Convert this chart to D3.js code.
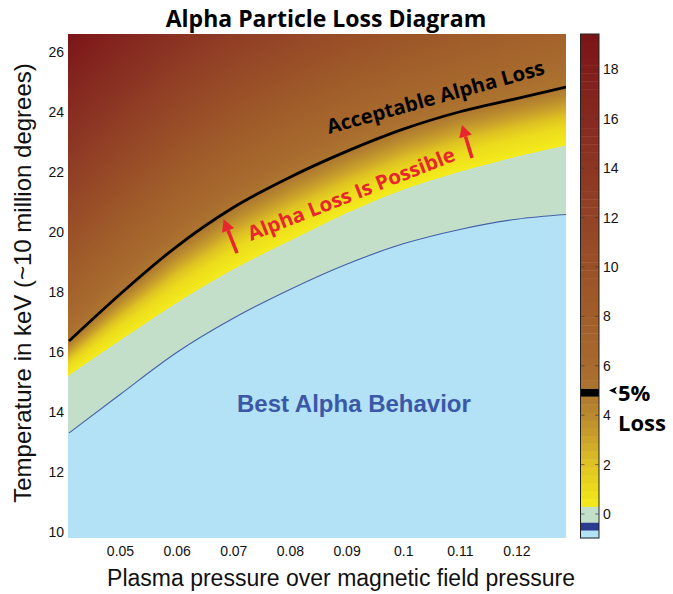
<!DOCTYPE html>
<html>
<head>
<meta charset="utf-8">
<script src="https://cdn.jsdelivr.net/npm/d3@7"></script>
<style>
  body { margin: 0; background: #fff; }
  svg { display: block; }
</style>
</head>
<body>
<div id="chart"></div>
<script>
// beta samples (plasma pressure / magnetic pressure)
const beta = [0.041, 0.05, 0.06, 0.07, 0.08, 0.09, 0.10, 0.11, 0.12, 0.129];
// temperature (keV) of the boundaries
const tBlueEdge   = [13.3, 14.58, 15.98, 17.12, 18.08, 18.92, 19.6, 20.08, 20.42, 20.58];
const tYellowEdge = [15.22, 16.38, 17.63, 18.75, 19.7, 20.62, 21.4, 22.0, 22.5, 22.89];
const t5pct       = [16.36, 17.92, 19.51, 20.81, 21.82, 22.68, 23.42, 24.0, 24.44, 24.83];
// loss (%) at the top edge of the plot
const lossTop     = [19.3, 17.0, 14.8, 13.0, 11.6, 10.4, 9.4, 8.5, 7.7, 7.1];
// where the 1..4 % levels sit between the yellow edge (0) and the 5% line (1)
const lowLevels   = [1, 2, 3, 4];
const lowLevelPos = [0.3, 0.5, 0.66, 0.83];

const xTicks = [0.05, 0.06, 0.07, 0.08, 0.09, 0.1, 0.11, 0.12];
const yTicks = [10, 12, 14, 16, 18, 20, 22, 24, 26];
const cbTicks = [0, 2, 4, 6, 8, 10, 12, 14, 16, 18];

// colormap of the loss values
const cmapVals   = [0.3, 1, 2, 3, 4, 5, 6, 8, 10, 12, 14, 16, 18, 19.4];
const cmapColors = ["#f4ec1c", "#ecdc1c", "#dfc322", "#cca42a", "#b98a2e", "#ad7530", "#a86a2e",
                    "#a05e2a", "#9a5027", "#934326", "#8c3623", "#862a20", "#801d1b", "#7b1518"];
const lightBlue = "#b3e1f6", darkBlue = "#2b3b8f", green = "#c4dfc9";

const W = 673, H = 594;
const plot = { left: 68, right: 566, top: 34, bottom: 538 };

const svg = d3.select("#chart").append("svg")
    .attr("width", W).attr("height", H);

const x = d3.scaleLinear().domain([0.04082, 0.12874]).range([plot.left, plot.right]);
const y = d3.scaleLinear().domain([9.8, 26.59]).range([plot.bottom, plot.top]);
const cmap = d3.scaleLinear().domain(cmapVals).range(cmapColors).clamp(true);

// polylinear scales follow each boundary between the samples
const sBlue = d3.scaleLinear().domain(beta).range(tBlueEdge);
const sYellow = d3.scaleLinear().domain(beta).range(tYellowEdge);
const s5 = d3.scaleLinear().domain(beta).range(t5pct);
const sTop = d3.scaleLinear().domain(beta).range(lossTop);

const defs = svg.append("defs");
defs.append("clipPath").attr("id", "plotclip")
    .append("rect")
    .attr("x", plot.left).attr("y", plot.top)
    .attr("width", plot.right - plot.left).attr("height", plot.bottom - plot.top);

// Draw the loss field, one column at a time
const tTop = y.domain()[1], tBot = y.domain()[0];
const cols = d3.range(plot.left, plot.right, 1);
const field = svg.append("g").attr("clip-path", "url(#plotclip)");

cols.forEach((px, i) => {
    const b = x.invert(px + 0.5);
    const tb = sBlue(b), ty = sYellow(b), t5 = s5(b), lt = sTop(b);
    const stops = [];
    stops.push([tTop, cmap(lt)]);
    for (let v = Math.floor(lt); v > 5; v--) {
        stops.push([t5 + (v - 5) / (lt - 5) * (tTop - t5), cmap(v)]);
    }
    stops.push([t5, cmap(5)]);
    for (let k = lowLevels.length - 1; k >= 0; k--) {
        stops.push([ty + lowLevelPos[k] * (t5 - ty), cmap(lowLevels[k])]);
    }
    stops.push([ty, cmap(0.3)]);
    stops.push([ty, green]);
    stops.push([tb, green]);
    stops.push([tb, lightBlue]);
    stops.push([tBot, lightBlue]);

    const grad = defs.append("linearGradient")
        .attr("id", "col" + i)
        .attr("gradientUnits", "userSpaceOnUse")
        .attr("x1", 0).attr("x2", 0)
        .attr("y1", plot.top).attr("y2", plot.bottom);
    grad.selectAll("stop").data(stops).join("stop")
        .attr("offset", d => Math.max(0, Math.min(1, (y(d[0]) - plot.top) / (plot.bottom - plot.top))))
        .attr("stop-color", d => d[1]);

    field.append("rect")
        .attr("x", px).attr("y", plot.top)
        .attr("width", 1.05).attr("height", plot.bottom - plot.top)
        .attr("fill", `url(#col${i})`);
});

const pts = d => beta.map((b, i) => ({ b: b, t: d[i] }));
const smooth = d3.curveMonotoneX;

// smooth the hard edges: green band below the yellow edge
field.append("path")
    .datum(pts(tYellowEdge))
    .attr("fill", green)
    .attr("d", d3.area().x(d => x(d.b)).y0(plot.bottom).y1(d => y(d.t)).curve(smooth));

// best region (light blue) below the blue edge
field.append("path")
    .datum(pts(tBlueEdge))
    .attr("fill", lightBlue)
    .attr("d", d3.area().x(d => x(d.b)).y0(plot.bottom).y1(d => y(d.t)).curve(smooth));

field.append("path")
    .datum(pts(tBlueEdge))
    .attr("fill", "none")
    .attr("stroke", "#4260ab")
    .attr("stroke-width", 1.1)
    .attr("d", d3.line().x(d => x(d.b)).y(d => y(d.t)).curve(smooth));

// 5% loss contour
field.append("path")
    .datum(pts(t5pct))
    .attr("fill", "none")
    .attr("stroke", "#000")
    .attr("stroke-width", 2.8)
    .attr("d", d3.line().x(d => x(d.b)).y(d => y(d.t)).curve(smooth));

// Axes
const axisFont = "'Liberation Sans', Arial, Helvetica, sans-serif";
const yAxis = svg.append("g")
    .attr("transform", `translate(${plot.left},0)`)
    .call(d3.axisLeft(y).tickValues(yTicks).tickSize(0).tickPadding(4));
const xAxis = svg.append("g")
    .attr("transform", `translate(0,${plot.bottom})`)
    .call(d3.axisBottom(x).tickValues(xTicks).tickSize(0).tickPadding(8)
        .tickFormat(d => String(+d.toFixed(2))));
[xAxis, yAxis].forEach(a => {
    a.select(".domain").remove();
    a.selectAll("text").attr("font-family", axisFont).attr("font-size", 14).attr("fill", "#111");
});

svg.append("text")
    .attr("x", 341).attr("y", 586)
    .attr("text-anchor", "middle")
    .attr("font-family", axisFont).attr("font-size", 23).attr("fill", "#111")
    .text("Plasma pressure over magnetic field pressure");

svg.append("text")
    .attr("transform", "translate(31,283) rotate(-90)")
    .attr("text-anchor", "middle")
    .attr("font-family", axisFont).attr("font-size", 24).attr("fill", "#111")
    .text("Temperature in keV (~10 million degrees)");

// Title
const boldFont = "'Open Sans', 'Noto Sans', sans-serif";
svg.append("text")
    .attr("x", 326).attr("y", 27)
    .attr("text-anchor", "middle")
    .attr("font-family", boldFont).attr("font-weight", 700).attr("font-size", 23)
    .attr("fill", "#000")
    .text("Alpha Particle Loss Diagram");

// Colorbar
const cb = { left: 580.5, right: 599, top: 34, bottom: 538 };
const nBands = 64;
const cbDomain = [-0.97, 19.43];
const cy = d3.scaleLinear().domain(cbDomain).range([cb.bottom, cb.top]);
const bandStep = (cbDomain[1] - cbDomain[0]) / nBands;
const bands = d3.range(nBands).map(k => ({ lo: cbDomain[0] + k * bandStep, hi: cbDomain[0] + (k + 1) * bandStep }));
const bandColor = d => {
    const mid = (d.lo + d.hi) / 2;
    if (d.hi <= -0.6) return lightBlue;
    if (d.hi <= -0.3) return darkBlue;
    if (d.hi <= 0.35) return green;
    if (d.lo <= 5 && d.hi >= 5) return "#000";
    return cmap(mid);
};
svg.append("g").selectAll("rect").data(bands).join("rect")
    .attr("x", cb.left).attr("width", cb.right - cb.left)
    .attr("y", d => cy(d.hi)).attr("height", d => cy(d.lo) - cy(d.hi) + 0.4)
    .attr("fill", bandColor);
svg.append("rect")
    .attr("x", cb.left).attr("y", cb.top)
    .attr("width", cb.right - cb.left).attr("height", cb.bottom - cb.top)
    .attr("fill", "none").attr("stroke", "#222").attr("stroke-width", 1);
svg.append("g").selectAll("line").data(cbTicks.flatMap(v => [[v, cb.left, cb.left + 4], [v, cb.right - 4, cb.right]]))
    .join("line")
    .attr("x1", d => d[1]).attr("x2", d => d[2])
    .attr("y1", d => cy(d[0])).attr("y2", d => cy(d[0]))
    .attr("stroke", "#333").attr("stroke-opacity", 0.6);
const cAxis = svg.append("g")
    .attr("transform", `translate(${cb.right},0)`)
    .call(d3.axisRight(cy).tickValues(cbTicks).tickSize(0).tickPadding(4));
cAxis.select(".domain").remove();
cAxis.selectAll("text").attr("font-family", axisFont).attr("font-size", 14).attr("fill", "#111");

// 5% Loss marker
svg.append("path")
    .attr("d", `M${609},${cy(5)} L${617},${cy(5) - 3.8} L${615},${cy(5)} L${617},${cy(5) + 3.8} Z`)
    .attr("fill", "#000");
svg.append("text")
    .attr("x", 618).attr("y", 401)
    .attr("font-family", boldFont).attr("font-weight", 700).attr("font-size", 22)
    .text("5%");
svg.append("text")
    .attr("x", 618).attr("y", 431)
    .attr("font-family", boldFont).attr("font-weight", 700).attr("font-size", 22)
    .text("Loss");

// Annotations
svg.append("text")
    .attr("transform", `translate(${x(0.0869)},${y(23.26)}) rotate(-15.5)`)
    .attr("font-family", boldFont).attr("font-weight", 700).attr("font-size", 20)
    .attr("textLength", 225).attr("lengthAdjust", "spacingAndGlyphs")
    .attr("fill", "#000")
    .text("Acceptable Alpha Loss");

svg.append("text")
    .attr("transform", `translate(${x(0.07313)},${y(19.69)}) rotate(-21.5)`)
    .attr("font-family", boldFont).attr("font-weight", 700).attr("font-size", 20)
    .attr("textLength", 221).attr("lengthAdjust", "spacingAndGlyphs")
    .attr("fill", "#e8262d")
    .text("Alpha Loss Is Possible");

const arrows = [
    { from: [0.07066, 19.29], to: [0.0683, 20.42] },
    { from: [0.11215, 22.46], to: [0.11038, 23.56] }
];
arrows.forEach(a => {
    const x0 = x(a.from[0]), y0 = y(a.from[1]), x1 = x(a.to[0]), y1 = y(a.to[1]);
    const ang = Math.atan2(y1 - y0, x1 - x0);
    const hl = 12, hw = 6.5;
    const bx = x1 - hl * Math.cos(ang), by = y1 - hl * Math.sin(ang);
    svg.append("line")
        .attr("x1", x0).attr("y1", y0).attr("x2", bx).attr("y2", by)
        .attr("stroke", "#e8262d").attr("stroke-width", 3.5);
    svg.append("path")
        .attr("d", `M${x1},${y1} L${bx + hw * Math.sin(ang)},${by - hw * Math.cos(ang)} L${bx - hw * Math.sin(ang)},${by + hw * Math.cos(ang)} Z`)
        .attr("fill", "#e8262d");
});

svg.append("text")
    .attr("x", x(0.07066)).attr("y", y(13.99))
    .attr("font-family", "'Liberation Sans', Arial, sans-serif").attr("font-weight", 700).attr("font-size", 24)
    .attr("fill", "#3a58a7")
    .text("Best Alpha Behavior");
</script>
</body>
</html>
